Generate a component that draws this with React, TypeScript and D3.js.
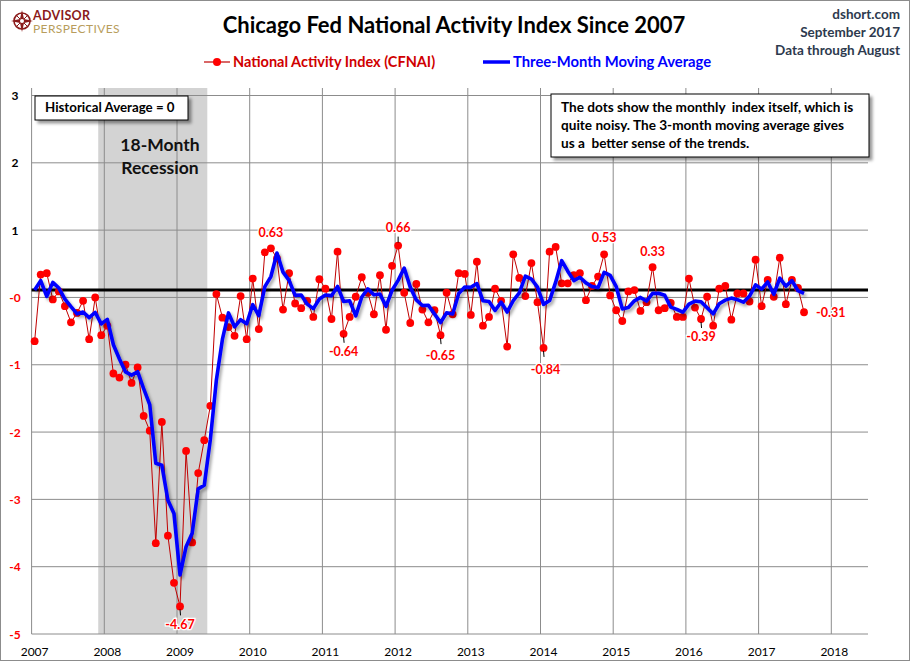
import * as d3 from "d3";

// ---- data ----
const startYear = 2007;
const yearTicks = [2007, 2008, 2009, 2010, 2011, 2012, 2013, 2014, 2015, 2016, 2017, 2018];
const yTicks = [3, 2, 1, 0, -1, -2, -3, -4, -5];
const yTickLabels = ["3", "2", "1", "-0", "-1", "-2", "-3", "-4", "-5"];

// Nov and Dec 2006, only used to start the moving average
const priorMonths = [-0.08, 1.06];
const cfnai2007 = [-0.65, 0.34, 0.36, -0.03, 0.09, -0.13, -0.37, -0.23, -0.05, -0.62, 0.0, -0.56];
const cfnai2008 = [-0.42, -1.13, -1.19, -1.0, -1.27, -1.04, -1.76, -1.98, -3.65, -1.85, -3.54, -4.24];
const cfnai2009 = [-4.59, -2.28, -3.64, -2.61, -2.12, -1.61, 0.05, -0.3, -0.44, -0.57, 0.02, -0.62];
const cfnai2010 = [0.28, -0.47, 0.67, 0.73, 0.58, -0.18, 0.36, -0.09, -0.16, -0.05, -0.29, 0.27];
const cfnai2011 = [0.13, -0.32, 0.68, -0.54, -0.29, 0.01, 0.3, 0.07, -0.25, 0.33, -0.48, 0.47];
const cfnai2012 = [0.77, 0.07, -0.38, 0.2, -0.18, -0.37, -0.19, -0.56, 0.07, -0.25, 0.36, 0.35];
const cfnai2013 = [-0.26, 0.53, -0.42, -0.29, 0.13, -0.05, -0.73, 0.64, 0.29, 0.02, 0.51, -0.07];
const cfnai2014 = [-0.75, 0.68, 0.75, 0.21, 0.21, 0.33, 0.36, -0.04, 0.17, 0.31, 0.64, 0.03];
const cfnai2015 = [-0.19, -0.35, 0.09, 0.11, -0.2, -0.07, 0.45, -0.19, -0.16, -0.08, -0.29, -0.29];
const cfnai2016 = [0.28, -0.15, -0.32, 0.01, -0.42, 0.13, 0.17, -0.33, 0.06, 0.06, -0.06, 0.56];
const cfnai2017 = [-0.13, 0.26, 0.01, 0.59, -0.1, 0.26, 0.14, -0.22];

const historicalAverage = 0.11;
const recessionMonths = ["2007-12", "2009-06"];

const annotationMonths = ["2010-04", "2012-01", "2011-04", "2012-08", "2014-01", "2014-11", "2015-07", "2016-03", "2017-08", "2009-01"];
const annotationTexts = ["0.63", "0.66", "-0.64", "-0.65", "-0.84", "0.53", "0.33", "-0.39", "-0.31", "-4.67"];

const noteLines = [
  "The dots show the monthly  index itself, which is",
  "quite noisy. The 3-month moving average gives",
  "us a  better sense of the trends.",
];
const sourceLines = ["dshort.com", "September 2017", "Data through August"];

// ---- layout ----
const W = 910;
const H = 661;
const plotLeft = 31.6;
const plotRight = 868;
const plotTop = 88;
const plotBottom = 634;
const font = "Lato, 'Open Sans', sans-serif";

// label placement: [dx, dy, anchor, leader]
const annotationLayout: [number, number, string, boolean][] = [
  [0, -11, "middle", false],
  [0, -14, "middle", true],
  [0, 22, "middle", true],
  [0, 25, "middle", true],
  [2, 26, "middle", true],
  [0, -12, "middle", false],
  [0, -11, "middle", false],
  [0, 22, "middle", true],
  [12, 5, "start", false],
  [0, 23, "middle", true],
];

const monthIndex = (s: string) => {
  const [yy, mm] = s.split("-").map(Number);
  return (yy - startYear) * 12 + (mm - 1);
};

export default function App() {
  const values = [
    ...cfnai2007, ...cfnai2008, ...cfnai2009, ...cfnai2010, ...cfnai2011, ...cfnai2012,
    ...cfnai2013, ...cfnai2014, ...cfnai2015, ...cfnai2016, ...cfnai2017,
  ];
  const full = [...priorMonths, ...values];
  const movingAvg = values.map((_, i) => d3.mean(full.slice(i, i + 3)) as number);

  const x = d3.scaleLinear().domain([0, 132]).range([plotLeft, 831.3]);
  const y = d3.scaleLinear().domain([-5, 3]).range([plotBottom, 95.5]);
  const px = (i: number) => x(i + 0.5);

  const redLine = d3.line<number>().x((_, i) => px(i)).y((d) => y(d))(values) as string;
  const blueLine = d3.line<number>().x((_, i) => px(i)).y((d) => y(d))(movingAvg) as string;

  const recX0 = x(monthIndex(recessionMonths[0]));
  const recX1 = x(monthIndex(recessionMonths[1]));

  return (
    <div>
      <style>{`body{margin:0}`}</style>
      <svg width={W} height={H} style={{ display: "block" }} fontFamily={font}>
        <defs>
          <filter id="shadow" x="-10%" y="-10%" width="130%" height="140%">
            <feDropShadow dx="2" dy="2.5" stdDeviation="1.4" floodColor="#000" floodOpacity="0.35" />
          </filter>
          <filter id="boxshadow" x="-10%" y="-10%" width="130%" height="150%">
            <feDropShadow dx="3" dy="3" stdDeviation="1.5" floodColor="#000" floodOpacity="0.4" />
          </filter>
        </defs>
        <rect x={0.5} y={0.5} width={W - 1} height={H - 1} fill="#fff" stroke="#8c8c8c" />

        {/* logo */}
        <g transform="translate(22,21)">
          <circle r={8} fill="none" stroke="#8b1a1a" strokeWidth={1.6} />
          <path d="M0,-11 L2,-2 L11,0 L2,2 L0,11 L-2,2 L-11,0 L-2,-2 Z" fill="#8b1a1a" />
          <path d="M-6,-6 L6,6 M6,-6 L-6,6" stroke="#8b1a1a" strokeWidth={1} />
          <circle r={2} fill="#fff" />
        </g>
        <text x={33} y={19.5} fontSize={12.5} fontWeight={700} fill="#8b1a1a" letterSpacing={0.3}>ADVISOR</text>
        <text x={33} y={33} fontSize={12} fill="#b89d5c" letterSpacing={0.4}>PERSPECTIVES</text>

        <text x={454} y={33} textAnchor="middle" fontSize={22} fontWeight={700} fill="#000">
          Chicago Fed National Activity Index Since 2007
        </text>
        <g fontSize={13.5} fontWeight={700} fill="#2d3a4e" textAnchor="end">
          {sourceLines.map((s, i) => (
            <text key={s} x={900} y={19 + i * 18}>{s}</text>
          ))}
        </g>

        {/* legend */}
        <line x1={204} x2={230} y1={62} y2={62} stroke="#c00000" strokeWidth={1.2} />
        <circle cx={217} cy={62} r={4} fill="#ff0000" />
        <text x={233} y={67} fontSize={14.5} fontWeight={700} fill="#d00000">National Activity Index (CFNAI)</text>
        <line x1={483} x2={510} y1={62} y2={62} stroke="#0000ff" strokeWidth={3.5} />
        <text x={513} y={67} fontSize={14.8} fontWeight={700} fill="#0000ff">Three-Month Moving Average</text>

        {/* recession */}
        <rect x={recX0} y={plotTop} width={recX1 - recX0} height={plotBottom - plotTop} fill="#d3d3d3" />

        {/* grid */}
        {yTicks.map((t) => (
          <line key={"h" + t} x1={plotLeft} x2={plotRight} y1={y(t)} y2={y(t)} stroke="#8c8c8c" strokeWidth={1} />
        ))}
        {yearTicks.map((yr) => (
          <line key={"v" + yr} x1={x((yr - startYear) * 12)} x2={x((yr - startYear) * 12)} y1={plotTop} y2={plotBottom} stroke="#8c8c8c" strokeWidth={1} />
        ))}

        {/* axis labels */}
        {yTicks.map((t, i) => (
          <text key={"yl" + t} x={15} y={y(t) + 4.5} textAnchor="middle" fontSize={12} fontWeight={700} fill={i < 3 ? "#000" : "#ff0000"}>
            {yTickLabels[i]}
          </text>
        ))}
        {yearTicks.map((yr) => (
          <text key={"xl" + yr} x={x((yr - startYear) * 12) + 3} y={656} textAnchor="middle" fontSize={12} fill="#000">
            {yr}
          </text>
        ))}

        {/* historical average line */}
        <line x1={plotLeft} x2={plotRight} y1={y(historicalAverage)} y2={y(historicalAverage)} stroke="#000" strokeWidth={3} />

        {/* boxes */}
        <g filter="url(#boxshadow)">
          <rect x={35} y={96} width={153} height={24} fill="#fff" stroke="#000" strokeWidth={1} />
          <rect x={551} y={94} width={318} height={63} fill="#fff" stroke="#000" strokeWidth={1} />
        </g>
        <text x={45} y={112} fontSize={13.3} fontWeight={700}>Historical Average = 0</text>
        <g fontSize={13.6} fontWeight={700}>
          {noteLines.map((s, i) => (
            <text key={i} x={561} y={112 + i * 18} xmlSpace="preserve" style={{ whiteSpace: "pre" }}>{s}</text>
          ))}
        </g>
        <g fontSize={17.5} fontWeight={700} textAnchor="middle" fill="#111">
          <text x={160} y={151}>18-Month</text>
          <text x={160} y={174}>Recession</text>
        </g>

        {/* CFNAI series */}
        <path d={redLine} fill="none" stroke="#c00000" strokeWidth={1} />
        {values.map((v, i) => (
          <circle key={"p" + i} cx={px(i)} cy={y(v)} r={3.9} fill="#ff0000" />
        ))}

        {/* 3-month moving average */}
        <path d={blueLine} fill="none" stroke="#0000ff" strokeWidth={3.6} strokeLinejoin="round" filter="url(#shadow)" />

        {/* annotations */}
        {annotationMonths.map((m, k) => {
          const i = monthIndex(m);
          const cx = px(i);
          const cy = y(values[i]);
          const [dx, dy, anchor, leader] = annotationLayout[k];
          return (
            <g key={"a" + k}>
              {leader && dy > 0 && <line x1={cx} x2={cx + 0.5} y1={cy + 3} y2={cy + 9} stroke="#000" strokeWidth={1} />}
              {leader && dy < 0 && <line x1={cx} x2={cx} y1={cy - 9} y2={cy - 3} stroke="#000" strokeWidth={1} />}
              <text
                x={cx + dx}
                y={cy + dy}
                textAnchor={anchor}
                fontSize={12.5}
                fontWeight={700}
                fill="#ff0000"
                stroke="#fff"
                strokeWidth={2.5}
                paintOrder="stroke"
              >
                {annotationTexts[k]}
              </text>
            </g>
          );
        })}
      </svg>
    </div>
  );
}
